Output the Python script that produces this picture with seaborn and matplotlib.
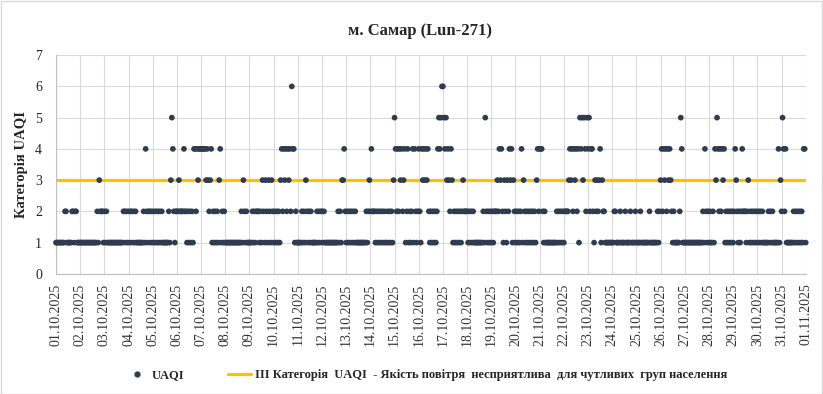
import numpy as np
import pandas as pd
import matplotlib
matplotlib.use("Agg")
import matplotlib.pyplot as plt
import matplotlib.dates as mdates
from matplotlib.lines import Line2D
import seaborn as sns

# hourly UAQI category, one string of 24 hours per day (01.10 - 31.10)
uaqi_days = [
    "111111111221111122122111",  # 01.10
    "111111111111111112132221",
    "212111111111111111122121",
    "212212121111111214212212",
    "121212121211111121354212",  # 05.10
    "223222242212121214424344",
    "444443432341212121341212",
    "111111111111111121321211",
    "111212122212132132132132",
    "121212134243424342644121",  # 10.10
    "111121213212121111121212",
    "212111111111111121213342",
    "121212121211111111112123",
    "242221212121212112121213",
    "542424342341241212414212",  # 15.10
    "421434343421212121245456",
    "654534324312121212123222",
    "212121211111111121521212",
    "121222324342132132434132",
    "121212413212121212121342",  # 20.10
    "444212111111111112121212",
    "122223434243424154535425",
    "452442132323413221111111",
    "112211112111121111211112",
    "111121111111121111111212",  # 25.10
    "342434243432121111125411",
    "111111111111111111214212",
    "121121435424243412121212",
    "124321212422212312121212",
    "121212111112121211111413",  # 30.10
    "254241111111212121212144",
]
uaqi_last = 1  # 01.11.2025 00:00

threshold = 3
start = "2025-10-01"
end = "2025-11-01"
title = "м. Самар (Lun-271)"
ylabel = "Категорія UAQI"
series_label = "UAQI"
threshold_label = "III Категорія  UAQI  - Якість повітря  несприятлива  для чутливих  груп населення"

uaqi = [int(c) for d in uaqi_days for c in d] + [uaqi_last]
times = pd.date_range(start, periods=len(uaqi), freq="h")
df = pd.DataFrame({"time": times, "UAQI": uaqi})
line_df = pd.DataFrame({"time": pd.to_datetime([start, end]), "level": [threshold, threshold]})

sns.set_style("white")
plt.rcParams["font.family"] = ["Liberation Serif", "DejaVu Serif"]

fig, ax = plt.subplots(figsize=(8.23, 3.94), dpi=100)
fig.subplots_adjust(left=0.068, right=0.979, bottom=0.305, top=0.86)

dot_color = "#2F3B4F"
line_color = "#FFC000"

sns.lineplot(data=line_df, x="time", y="level", color=line_color, linewidth=2.3,
             ax=ax, zorder=2, legend=False)
sns.scatterplot(data=df, x="time", y="UAQI", color=dot_color, s=17, edgecolor="none",
                ax=ax, zorder=3, clip_on=False, legend=False)

ax.set_xlim(pd.Timestamp(start), pd.Timestamp(end))
ax.set_ylim(0, 7)
ax.set_yticks(range(8))
ax.xaxis.set_major_locator(mdates.DayLocator())
ax.xaxis.set_major_formatter(mdates.DateFormatter("%d.%m.%Y"))
plt.setp(ax.get_xticklabels(), rotation=90, fontsize=10, color="#333333")
plt.setp(ax.get_yticklabels(), fontsize=10, color="#262626")
ax.tick_params(axis="x", length=4, color="#BFBFBF", pad=3)
ax.tick_params(axis="y", length=0, pad=10)

ax.grid(True, color="#D9D9D9", linewidth=0.8)
ax.set_axisbelow(True)
for side in ["top", "right"]:
    ax.spines[side].set_visible(False)
for side in ["left", "bottom"]:
    ax.spines[side].set_color("#BFBFBF")

ax.set_xlabel("")
ax.set_ylabel(ylabel, fontsize=10.5, fontweight="bold", labelpad=5)
fig.text(0.51, 0.922, title, ha="center", va="center", fontsize=12, fontweight="bold")

handles = [
    Line2D([], [], marker="o", linestyle="none", color=dot_color, markersize=3.5),
    Line2D([], [], color=line_color, linewidth=2.3),
]
fig.legend(handles, [series_label, threshold_label], loc="center", ncol=2,
           bbox_to_anchor=(0.518, 0.048), frameon=False, handlelength=1.8,
           handletextpad=0.3, columnspacing=3.5, prop={"weight": "bold", "size": 9})

fig.patches.append(plt.Rectangle((0.001, 0.001), 0.998, 0.997, transform=fig.transFigure,
                                 fill=False, edgecolor="#D9D9D9", linewidth=1))

fig.savefig("out.png", dpi=100)
